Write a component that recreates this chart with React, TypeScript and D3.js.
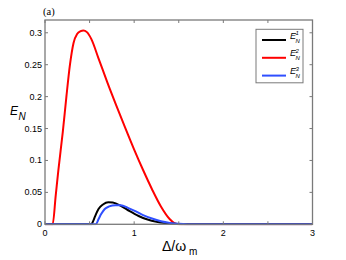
import React from "react";
import * as d3 from "d3";

// detuning Δ/ωm  vs  logarithmic negativity
const red2X = [0, 0.086, 0.12, 0.15, 0.2, 0.24, 0.28, 0.32, 0.36, 0.4, 0.43, 0.47, 0.52, 0.6, 0.7, 0.8, 0.9, 1.0, 1.1, 1.2, 1.3, 1.4, 1.45, 1.5, 3];
const red2Y = [0, 0, 0.045, 0.085, 0.145, 0.2, 0.25, 0.284, 0.298, 0.3025, 0.3036, 0.301, 0.29, 0.26, 0.222, 0.186, 0.151, 0.117, 0.085, 0.055, 0.028, 0.008, 0.002, 0, 0];

const black1X = [0, 0.52, 0.54, 0.56, 0.6, 0.65, 0.71, 0.76, 0.85, 0.95, 1.05, 1.15, 1.25, 1.35, 1.45, 1.6, 3];
const black1Y = [0, 0, 0.005, 0.012, 0.024, 0.031, 0.0345, 0.034, 0.029, 0.0205, 0.013, 0.0075, 0.004, 0.002, 0.0008, 0, 0];

const blue3X = [0, 0.57, 0.6, 0.63, 0.67, 0.72, 0.79, 0.85, 0.93, 1.0, 1.1, 1.2, 1.3, 1.4, 1.5, 1.7, 3];
const blue3Y = [0, 0, 0.008, 0.016, 0.024, 0.028, 0.03, 0.0298, 0.0258, 0.0215, 0.0145, 0.009, 0.0048, 0.0022, 0.0008, 0, 0];

const xTicks = [0, 0.5, 1, 1.5, 2, 2.5, 3];
const xLabels = [0, 1, 2, 3];
const yTicks = [0, 0.05, 0.1, 0.15, 0.2, 0.25, 0.3];

const legendNames = ["1", "2", "3"];
const colors = ["#000000", "#ff0000", "#2f4fff"];

const W = 346, H = 260;
const left = 45, right = 312.5, top = 20, bottom = 224.3;

export default function App() {
  const x = d3.scaleLinear([0, 3], [left, right]);
  const y = d3.scaleLinear([0, 0.32], [bottom, top]);
  const line = d3.line<[number, number]>()
    .x(d => x(d[0]))
    .y(d => y(d[1]))
    .curve(d3.curveMonotoneX);
  const zip = (a: number[], b: number[]) => a.map((v, i) => [v, b[i]] as [number, number]);
  const series = [zip(black1X, black1Y), zip(red2X, red2Y), zip(blue3X, blue3Y)];
  const drawOrder = [1, 0, 2];
  const axisColor = "#7a7a7a";
  const tickFont = "Liberation Sans, Arial, sans-serif";

  return (
    <svg width={W} height={H} style={{ position: "absolute", left: 0, top: 0, background: "#fff" }}>
      <rect x={0} y={0} width={W} height={H} fill="#fff" />
      <text x={43} y={15} fontFamily="'Liberation Serif', 'DejaVu Serif', serif" fontSize={10.5}>(a)</text>

      <defs>
        <clipPath id="clip">
          <rect x={left} y={top} width={right - left} height={bottom - top + 1} />
        </clipPath>
      </defs>
      <g clipPath="url(#clip)">
        {drawOrder.map(i => (
          <path key={i} d={line(series[i]) || ""} fill="none" stroke={colors[i]} strokeWidth={2} />
        ))}
      </g>

      {/* frame */}
      <rect x={left} y={top} width={right - left} height={bottom - top} fill="none" stroke={axisColor} strokeWidth={1.3} />

      {xTicks.map(t => (
        <g key={"xt" + t}>
          <line x1={x(t)} x2={x(t)} y1={bottom} y2={bottom - 3} stroke={axisColor} />
          <line x1={x(t)} x2={x(t)} y1={top} y2={top + 3} stroke={axisColor} />
        </g>
      ))}
      {xLabels.map(t => (
        <text key={"xl" + t} x={x(t)} y={236} textAnchor="middle" fontFamily={tickFont} fontSize={9}>{t}</text>
      ))}
      {yTicks.map(t => (
        <g key={"yt" + t}>
          <line x1={left} x2={left + 3} y1={y(t)} y2={y(t)} stroke={axisColor} />
          <line x1={right} x2={right - 3} y1={y(t)} y2={y(t)} stroke={axisColor} />
          <text x={42} y={y(t) + 3} textAnchor="end" fontFamily={tickFont} fontSize={9}>{t}</text>
        </g>
      ))}

      {/* y label */}
      <text x={10} y={115} fontFamily={tickFont} fontSize={12} fontStyle="italic">E</text>
      <text x={18.5} y={120} fontFamily={tickFont} fontSize={10} fontStyle="italic">N</text>

      {/* x label */}
      <text x={162} y={251} fontFamily={tickFont} fontSize={14}>Δ/ω</text>
      <text x={189} y={255} fontFamily={tickFont} fontSize={10}>m</text>

      {/* legend */}
      <rect x={256} y={29.3} width={47} height={53.5} fill="#fff" stroke={axisColor} strokeWidth={1} />
      {legendNames.map((n, i) => {
        const ly = 40 + i * 17.8;
        return (
          <g key={"lg" + n}>
            <line x1={262} x2={286} y1={ly} y2={ly} stroke={colors[i]} strokeWidth={2} />
            <text x={290} y={ly - 1.5} fontFamily={tickFont} fontSize={9} fontStyle="italic">E</text>
            <text x={295.5} y={ly - 5} fontFamily={tickFont} fontSize={6} fontStyle="italic">{n}</text>
            <text x={295.5} y={ly + 2.5} fontFamily={tickFont} fontSize={6} fontStyle="italic">N</text>
          </g>
        );
      })}
    </svg>
  );
}
